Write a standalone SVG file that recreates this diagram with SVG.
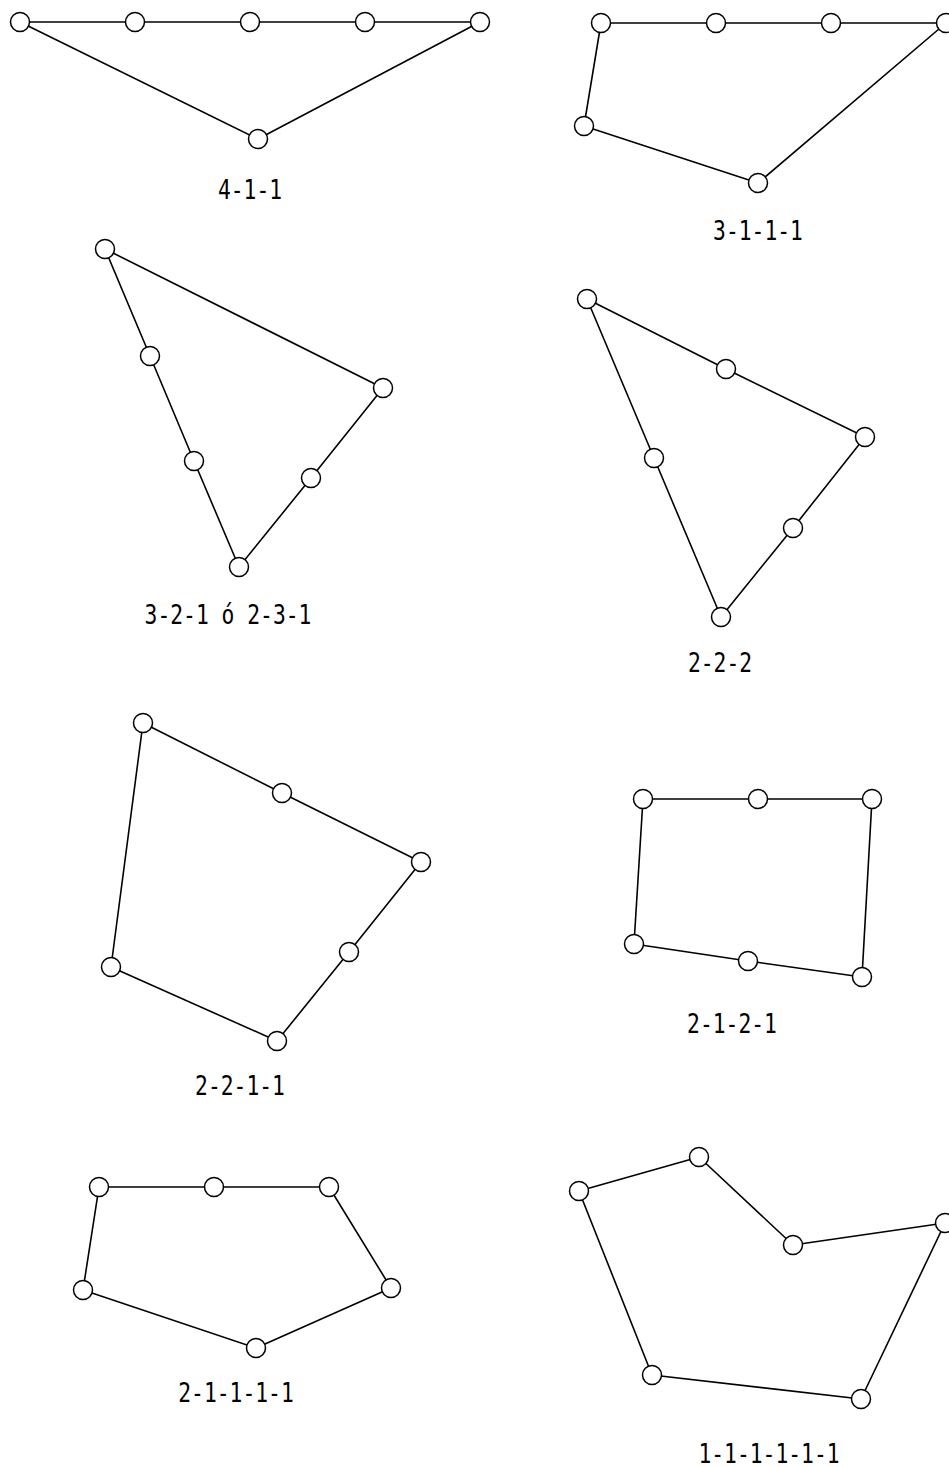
<svg xmlns="http://www.w3.org/2000/svg" width="949" height="1467" viewBox="0 0 949 1467">
<style>
.edge{fill:none;stroke:#000;stroke-width:1.6;stroke-linejoin:round}
.node circle{fill:#fff;stroke:#000;stroke-width:1.5}
.lbl{font-family:"DejaVu Sans Mono","Liberation Mono",monospace;font-size:26px;fill:#000;text-anchor:middle}
</style>
<rect width="949" height="1467" fill="#fff"/>
<g id="connectors">
<polygon class="edge" points="20,22 135,22 250,22 365,22 480,22 258,139"/>
<polygon class="edge" points="601,23 716,23 831,23 946,23 758,183 584,126"/>
<polygon class="edge" points="105,249 383,388 311,478 239,567 194,461 150,356"/>
<polygon class="edge" points="587,299 726,369 865,437 793,528 721,617 654,458"/>
<polygon class="edge" points="143,723 282,793 421,862 349,952 277,1041 111,967"/>
<polygon class="edge" points="643,799 758,799 872,799 862,977 748,961 634,944"/>
<polygon class="edge" points="99,1187 214,1187 329,1187 391,1288 256,1348 83,1290"/>
<polygon class="edge" points="579,1191 699,1157 793,1245 945,1223 861,1399 652,1375"/>
</g>
<g id="d1">
<g id="d1n1" class="node"><circle cx="20" cy="22" r="9.5"/></g>
<g id="d1n2" class="node"><circle cx="135" cy="22" r="9.5"/></g>
<g id="d1n3" class="node"><circle cx="250" cy="22" r="9.5"/></g>
<g id="d1n4" class="node"><circle cx="365" cy="22" r="9.5"/></g>
<g id="d1n5" class="node"><circle cx="480" cy="22" r="9.5"/></g>
<g id="d1n6" class="node"><circle cx="258" cy="139" r="9.5"/></g>
<text class="lbl" transform="translate(250,199) scale(0.82,1)">4-1-1</text>
</g>
<g id="d2">
<g id="d2n1" class="node"><circle cx="601" cy="23" r="9.5"/></g>
<g id="d2n2" class="node"><circle cx="716" cy="23" r="9.5"/></g>
<g id="d2n3" class="node"><circle cx="831" cy="23" r="9.5"/></g>
<g id="d2n4" class="node"><circle cx="946" cy="23" r="9.5"/></g>
<g id="d2n5" class="node"><circle cx="758" cy="183" r="9.5"/></g>
<g id="d2n6" class="node"><circle cx="584" cy="126" r="9.5"/></g>
<text class="lbl" transform="translate(758,240) scale(0.82,1)">3-1-1-1</text>
</g>
<g id="d3">
<g id="d3n1" class="node"><circle cx="105" cy="249" r="9.5"/></g>
<g id="d3n2" class="node"><circle cx="383" cy="388" r="9.5"/></g>
<g id="d3n3" class="node"><circle cx="311" cy="478" r="9.5"/></g>
<g id="d3n4" class="node"><circle cx="239" cy="567" r="9.5"/></g>
<g id="d3n5" class="node"><circle cx="194" cy="461" r="9.5"/></g>
<g id="d3n6" class="node"><circle cx="150" cy="356" r="9.5"/></g>
<text class="lbl" transform="translate(228,624) scale(0.82,1)">3-2-1 ó 2-3-1</text>
</g>
<g id="d4">
<g id="d4n1" class="node"><circle cx="587" cy="299" r="9.5"/></g>
<g id="d4n2" class="node"><circle cx="726" cy="369" r="9.5"/></g>
<g id="d4n3" class="node"><circle cx="865" cy="437" r="9.5"/></g>
<g id="d4n4" class="node"><circle cx="793" cy="528" r="9.5"/></g>
<g id="d4n5" class="node"><circle cx="721" cy="617" r="9.5"/></g>
<g id="d4n6" class="node"><circle cx="654" cy="458" r="9.5"/></g>
<text class="lbl" transform="translate(720,672) scale(0.82,1)">2-2-2</text>
</g>
<g id="d5">
<g id="d5n1" class="node"><circle cx="143" cy="723" r="9.5"/></g>
<g id="d5n2" class="node"><circle cx="282" cy="793" r="9.5"/></g>
<g id="d5n3" class="node"><circle cx="421" cy="862" r="9.5"/></g>
<g id="d5n4" class="node"><circle cx="349" cy="952" r="9.5"/></g>
<g id="d5n5" class="node"><circle cx="277" cy="1041" r="9.5"/></g>
<g id="d5n6" class="node"><circle cx="111" cy="967" r="9.5"/></g>
<text class="lbl" transform="translate(240,1095) scale(0.82,1)">2-2-1-1</text>
</g>
<g id="d6">
<g id="d6n1" class="node"><circle cx="643" cy="799" r="9.5"/></g>
<g id="d6n2" class="node"><circle cx="758" cy="799" r="9.5"/></g>
<g id="d6n3" class="node"><circle cx="872" cy="799" r="9.5"/></g>
<g id="d6n4" class="node"><circle cx="862" cy="977" r="9.5"/></g>
<g id="d6n5" class="node"><circle cx="748" cy="961" r="9.5"/></g>
<g id="d6n6" class="node"><circle cx="634" cy="944" r="9.5"/></g>
<text class="lbl" transform="translate(732,1033) scale(0.82,1)">2-1-2-1</text>
</g>
<g id="d7">
<g id="d7n1" class="node"><circle cx="99" cy="1187" r="9.5"/></g>
<g id="d7n2" class="node"><circle cx="214" cy="1187" r="9.5"/></g>
<g id="d7n3" class="node"><circle cx="329" cy="1187" r="9.5"/></g>
<g id="d7n4" class="node"><circle cx="391" cy="1288" r="9.5"/></g>
<g id="d7n5" class="node"><circle cx="256" cy="1348" r="9.5"/></g>
<g id="d7n6" class="node"><circle cx="83" cy="1290" r="9.5"/></g>
<text class="lbl" transform="translate(236,1402) scale(0.82,1)">2-1-1-1-1</text>
</g>
<g id="d8">
<g id="d8n1" class="node"><circle cx="579" cy="1191" r="9.5"/></g>
<g id="d8n2" class="node"><circle cx="699" cy="1157" r="9.5"/></g>
<g id="d8n3" class="node"><circle cx="793" cy="1245" r="9.5"/></g>
<g id="d8n4" class="node"><circle cx="945" cy="1223" r="9.5"/></g>
<g id="d8n5" class="node"><circle cx="861" cy="1399" r="9.5"/></g>
<g id="d8n6" class="node"><circle cx="652" cy="1375" r="9.5"/></g>
<text class="lbl" transform="translate(769,1463) scale(0.82,1)">1-1-1-1-1-1</text>
</g>
</svg>
